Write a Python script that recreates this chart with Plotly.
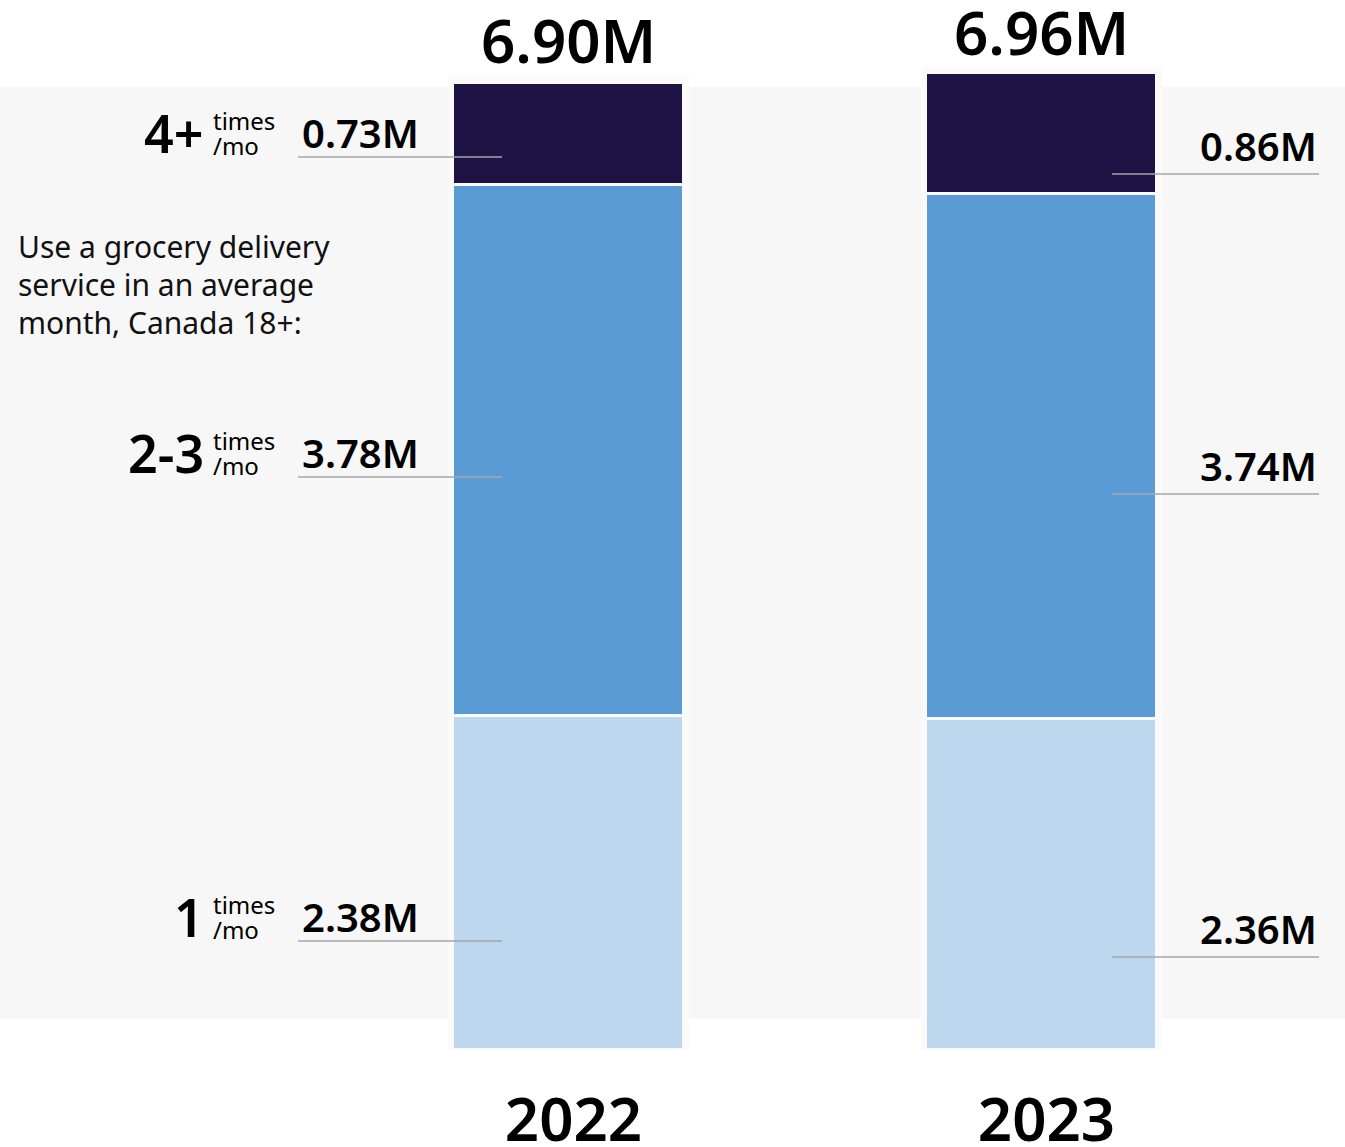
import plotly.graph_objects as go

# Grocery delivery users (millions), Canada 18+
years = ["2022", "2023"]
tiers = ["1", "2-3", "4+"]
once_a_month = [2.38, 2.36]
two_three_a_month = [3.78, 3.74]
four_plus_a_month = [0.73, 0.86]
totals = [6.90, 6.96]

tier_colors = ["#bdd7ee", "#5b9bd5", "#1f1346"]
FONT = "Noto Sans"
BOLD = 600

W, H = 1345, 1147
MB = 97                  # bottom margin (px)
PLOT_H = H - MB          # plot area height (px)
Y_MAX = 7.48
PX_PER_UNIT = PLOT_H / Y_MAX
X_RANGE = [-1.2019, 1.6417]
PX_PER_CAT = W / (X_RANGE[1] - X_RANGE[0])
BAR_W = 0.49

fig = go.Figure()
for name, vals, col in zip(tiers, [once_a_month, two_three_a_month, four_plus_a_month], tier_colors):
    fig.add_trace(go.Bar(
        x=years, y=vals, name=name, width=BAR_W,
        marker=dict(color=col, line=dict(color="#fafafa", width=3.5)),
        hoverinfo="skip",
    ))

shapes = []
# light grey panel behind the chart body
shapes.append(dict(type="rect", xref="paper", yref="paper", x0=0, x1=1,
                   y0=(PLOT_H - 1019) / PLOT_H, y1=(PLOT_H - 87) / PLOT_H,
                   fillcolor="#f7f7f7", line_width=0, layer="below"))
# pale frame around each stacked bar
pad_x = 120.5 / PX_PER_CAT
pad_y = 6 / PX_PER_UNIT
for i, tot in enumerate(totals):
    shapes.append(dict(type="rect", xref="x", yref="y",
                       x0=i - pad_x, x1=i + pad_x, y0=-pad_y, y1=tot + pad_y,
                       fillcolor="#fafafa", line_width=0, layer="below"))

annotations = []
# totals above the bars
for i, (yr, tot) in enumerate(zip(years, totals)):
    annotations.append(dict(x=i, y=tot, xref="x", yref="y", text=f"{tot:.2f}M",
                            showarrow=False, yanchor="bottom", xanchor="center",
                            yshift=-2, font=dict(family=FONT, size=60, weight=BOLD, color="#000")))

def px_to_val(p):
    return (PLOT_H - p) / PX_PER_UNIT

# leader line heights for each segment label (px from top)
leader_2022 = [941, 477, 157]
leader_2023 = [957, 494, 174]

series = [once_a_month, two_three_a_month, four_plus_a_month]
for k, tier in enumerate(tiers):
    # 2022 side: tier name, "times /mo", value and leader line
    L = px_to_val(leader_2022[k])
    shapes.append(dict(type="line", xref="paper", yref="y", x0=298 / W, x1=502 / W,
                       y0=L, y1=L, line=dict(color="#a6a6a6", width=1.3)))
    annotations.append(dict(x=300 / W, y=L, xref="paper", yref="y",
                            text=f"{series[k][0]:.2f}M", showarrow=False,
                            xanchor="left", yanchor="bottom", yshift=-5,
                            font=dict(family=FONT, size=40, weight=BOLD, color="#000")))
    annotations.append(dict(x=206 / W, y=L, xref="paper", yref="y", text=tier,
                            showarrow=False, xanchor="right", yanchor="bottom",
                            yshift=-13, font=dict(family=FONT, size=52, weight=BOLD, color="#000")))
    annotations.append(dict(x=211 / W, y=L, xref="paper", yref="y", text="times",
                            showarrow=False, xanchor="left", yanchor="bottom",
                            yshift=18, font=dict(family=FONT, size=24, color="#000")))
    annotations.append(dict(x=211 / W, y=L, xref="paper", yref="y", text="/mo",
                            showarrow=False, xanchor="left", yanchor="bottom",
                            yshift=-7, font=dict(family=FONT, size=24, color="#000")))

    # 2023 side: value and leader line
    L2 = px_to_val(leader_2023[k])
    shapes.append(dict(type="line", xref="paper", yref="y", x0=1112 / W, x1=1319 / W,
                       y0=L2, y1=L2, line=dict(color="#a6a6a6", width=1.3)))
    annotations.append(dict(x=1319 / W, y=L2, xref="paper", yref="y",
                            text=f"{series[k][1]:.2f}M", showarrow=False,
                            xanchor="right", yanchor="bottom", yshift=-1,
                            font=dict(family=FONT, size=40, weight=BOLD, color="#000")))

# descriptive caption, one line per annotation
caption_lines = ["Use a grocery delivery", "service in an average", "month, Canada 18+:"]
for j, line in enumerate(caption_lines):
    annotations.append(dict(x=16 / W, y=(PLOT_H - (224 + 38 * j)) / PLOT_H,
                            xref="paper", yref="paper", text=line,
                            showarrow=False, xanchor="left", yanchor="top", align="left",
                            font=dict(family=FONT, size=30, color="#111")))

fig.update_layout(
    width=W, height=H,
    margin=dict(l=0, r=0, t=0, b=MB, pad=0),
    barmode="stack", bargap=0,
    showlegend=False,
    paper_bgcolor="white", plot_bgcolor="rgba(0,0,0,0)",
    shapes=shapes, annotations=annotations,
    xaxis=dict(type="category", range=X_RANGE, showgrid=False, zeroline=False,
               showline=False, ticks="", automargin=False, fixedrange=True,
               tickfont=dict(family=FONT, size=60, weight=BOLD, color="#000"),
               ticklabelstandoff=30, ticklabelshift=5),
    yaxis=dict(range=[0, Y_MAX], visible=False, fixedrange=True),
)

fig.write_html("out.html", config={"displayModeBar": False})
